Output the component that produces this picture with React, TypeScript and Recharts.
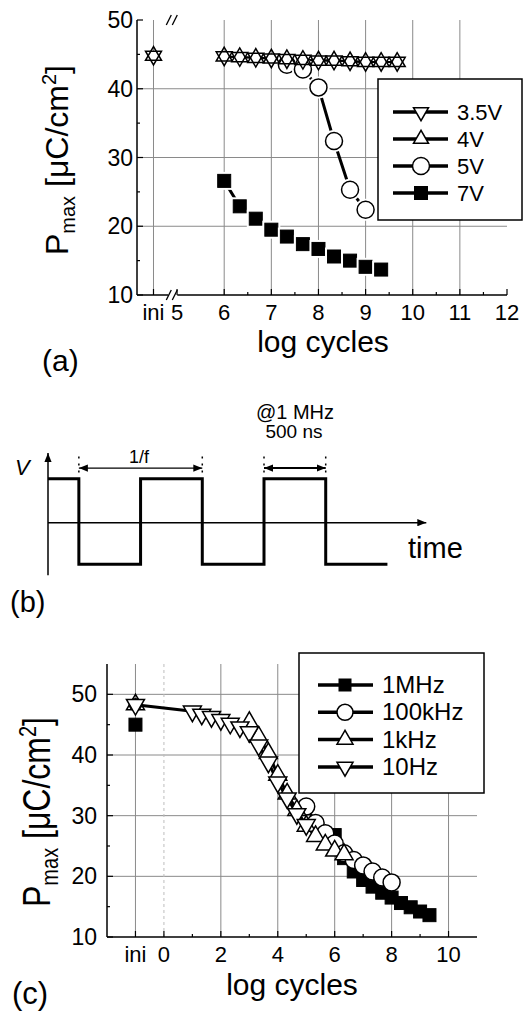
import {
  CartesianGrid,
  ComposedChart,
  Line,
  LineChart,
  ReferenceDot,
  ReferenceLine,
  XAxis,
  YAxis,
} from 'recharts'

const FONT = '"Liberation Sans", Arial, Helvetica, sans-serif'

// ---------- (a) Pmax vs log cycles for several amplitudes ----------
const A_INI = 4.5
const A_X = [6, 6.33, 6.67, 7, 7.33, 7.67, 8, 8.33, 8.67, 9, 9.33, 9.67]
const A_35V = [44.7, 44.6, 44.5, 44.4, 44.3, 44.2, 44.1, 44.1, 44.0, 43.9, 43.9, 43.9]
const A_4V = [44.7, 44.6, 44.5, 44.4, 44.3, 44.2, 44.1, 44.1, 44.0, 43.9, 43.9, 43.9]
const A_5V_X = [7.33, 7.67, 8, 8.33, 8.67, 9]
const A_5V = [43.5, 42.8, 40.2, 32.4, 25.3, 22.4]
const A_7V = [26.6, 22.9, 21.1, 19.5, 18.5, 17.4, 16.7, 15.6, 15.0, 14.1, 13.7]
const A_INI_35V = 44.8
const A_INI_4V = 44.8
const A_LABEL_X = [4.5, 5, 6, 7, 8, 9, 10, 11, 12]
const A_MINOR_X = [6.5, 7.5, 8.5, 9.5, 10.5, 11.5]
const A_GRID_X = [4.5, 6, 7, 8, 9, 10, 11]
const A_LABEL_Y = [10, 20, 30, 40, 50]
const A_MINOR_Y = [15, 25, 35, 45]
const A_GRID_Y = [20, 30, 40]
const A_LEGEND = ['3.5V', '4V', '5V', '7V']

// ---------- (b) driving square wave ----------
const WAVE_T = [0, 0.5, 0.5, 1.5, 1.5, 2.5, 2.5, 3.5, 3.5, 4.5, 4.5, 5.5]
const WAVE_V = [1, 1, -0.94, -0.94, 1, 1, -0.94, -0.94, 1, 1, -0.94, -0.94]
const GUIDE_T = [0.5, 2.5, 3.5, 4.5]

// ---------- (c) Pmax vs log cycles for several frequencies ----------
const C_INI = -1
const C_1MHZ_X = [6, 6.33, 6.67, 7, 7.33, 7.67, 8, 8.33, 8.67, 9, 9.33]
const C_1MHZ = [26.8, 23.0, 20.8, 19.4, 18.3, 17.3, 16.5, 15.6, 14.9, 14.2, 13.6]
const C_100K_X = [5, 5.33, 5.67, 6, 6.33, 6.67, 7, 7.33, 7.67, 8]
const C_100K = [31.5, 28.8, 27.1, 25.4, 23.8, 22.7, 21.8, 20.8, 19.8, 19.0]
const C_1K_X = [3, 3.33, 3.67, 4, 4.33, 4.67, 5, 5.33, 5.67, 6, 6.33]
const C_1K = [45.4, 43.0, 40.3, 36.7, 33.6, 30.9, 28.3, 26.6, 25.2, 24.2, 23.6]
const C_10HZ_X = [1, 1.33, 1.67, 2, 2.33, 2.67, 3, 3.33, 3.67, 4, 4.33, 4.67, 5]
const C_10HZ = [47.2, 46.7, 46.3, 45.8, 45.2, 44.6, 43.8, 41.6, 38.8, 35.5, 32.9, 30.3, 28.5]
const C_INI_1MHZ = 45.0
const C_INI_OTHERS = 48.3
const C_LABEL_X = [-1, 0, 2, 4, 6, 8, 10]
const C_MINOR_X = [1, 3, 5, 7, 9]
const C_GRID_X = [-1, 2, 4, 6, 8, 10]
const C_LABEL_Y = [10, 20, 30, 40, 50]
const C_MINOR_Y = [15, 25, 35, 45]
const C_GRID_Y = [20, 30, 40, 50]
const C_LEGEND = ['1MHz', '100kHz', '1kHz', '10Hz']

type Pt = { x: number; y: number }
const zip = (xs: number[], ys: number[]): Pt[] => ys.map((y, i) => ({ x: xs[i], y }))
const sorted = (...a: number[][]) => a.flat().sort((p, q) => p - q)

type Kind = 'up' | 'down' | 'circle' | 'square'

function Marker({
  cx,
  cy,
  kind,
  size,
  fill = '#fff',
  halo = 0,
}: {
  cx?: number
  cy?: number
  kind: Kind
  size: number
  fill?: string
  halo?: number
}) {
  if (cx == null || cy == null || Number.isNaN(cx) || Number.isNaN(cy)) return null
  const s = size
  const h = s * 0.866
  if (kind === 'circle') {
    return (
      <g>
        {halo ? <circle cx={cx} cy={cy} r={s / 2 + halo} fill="#fff" /> : null}
        <circle cx={cx} cy={cy} r={s / 2} fill={fill} stroke="#000" strokeWidth={1.5} />
      </g>
    )
  }
  if (kind === 'square') {
    return (
      <g>
        {halo ? (
          <rect x={cx - s / 2 - halo} y={cy - s / 2 - halo} width={s + 2 * halo} height={s + 2 * halo} fill="#fff" />
        ) : null}
        <rect x={cx - s / 2} y={cy - s / 2} width={s} height={s} fill={fill} stroke="#000" strokeWidth={1} />
      </g>
    )
  }
  const p =
    kind === 'up'
      ? [
          [cx, cy - (2 * h) / 3],
          [cx - s / 2, cy + h / 3],
          [cx + s / 2, cy + h / 3],
        ]
      : [
          [cx - s / 2, cy - h / 3],
          [cx + s / 2, cy - h / 3],
          [cx, cy + (2 * h) / 3],
        ]
  return <polygon points={p.map((q) => q.join(',')).join(' ')} fill={fill} stroke="#000" strokeWidth={1.5} />
}

const dots = (kind: Kind, size: number, fill?: string, halo?: number) => (p: any) => (
  <Marker key={`${kind}-${p.index}`} cx={p.cx} cy={p.cy} kind={kind} size={size} fill={fill} halo={halo} />
)

// bottom axis: inward tick mark + label (labels only on major values)
const bottomTick = (labels: number[], fmt: (v: number) => string, margin: number, size: number) => (p: any) => {
  const v = p.payload.value
  const major = labels.includes(v)
  return (
    <g>
      <line x1={p.x} x2={p.x} y1={p.y - margin} y2={p.y - margin - (major ? 6 : 3)} stroke="#000" strokeWidth={1.2} />
      {major ? (
        <text x={p.x} y={p.y} dy="0.71em" textAnchor="middle" fontSize={size} fontFamily={FONT} fill="#000">
          {fmt(v)}
        </text>
      ) : null}
    </g>
  )
}

const leftTick = (labels: number[], margin: number, size: number) => (p: any) => {
  const v = p.payload.value
  const major = labels.includes(v)
  return (
    <g>
      <line x1={p.x + margin} x2={p.x + margin + (major ? 6 : 3)} y1={p.y} y2={p.y} stroke="#000" strokeWidth={1.2} />
      {major ? (
        <text x={p.x} y={p.y} dy="0.355em" textAnchor="end" fontSize={size} fontFamily={FONT} fill="#000">
          {v}
        </text>
      ) : null}
    </g>
  )
}

function BreakMark({ cx, cy }: { cx?: number; cy?: number }) {
  if (cx == null || cy == null) return null
  return (
    <g>
      <rect x={cx - 5} y={cy - 3} width={9} height={6} fill="#fff" />
      <line x1={cx - 7} y1={cy + 5} x2={cx - 2} y2={cy - 5} stroke="#000" strokeWidth={1.3} />
      <line x1={cx - 1} y1={cy + 5} x2={cx + 4} y2={cy - 5} stroke="#000" strokeWidth={1.3} />
    </g>
  )
}

const AXIS_LINE = { stroke: '#000', strokeWidth: 1.5 }
const GRID_STROKE = '#8a8a8a'

function PanelA() {
  const s35 = zip(A_X, A_35V)
  const s4 = zip(A_X, A_4V)
  const s5 = zip(A_5V_X, A_5V)
  const s7 = zip(A_X, A_7V)
  return (
    <ComposedChart width={525} height={340} margin={{ top: 20, right: 18, bottom: 0, left: 0 }}>
      <CartesianGrid verticalValues={A_GRID_X} horizontalValues={A_GRID_Y} stroke={GRID_STROKE} strokeWidth={1} />
      <XAxis
        type="number"
        dataKey="x"
        domain={[4.15, 12]}
        ticks={sorted(A_LABEL_X, A_MINOR_X)}
        interval={0}
        height={45}
        tickSize={0}
        tickMargin={9}
        tickLine={false}
        axisLine={AXIS_LINE}
        tick={bottomTick(A_LABEL_X, (v) => (v === A_INI ? 'ini' : String(v)), 9, 22)}
      />
      <XAxis xAxisId="top" orientation="top" type="number" domain={[4.15, 12]} height={0} tick={false} tickLine={false} axisLine={AXIS_LINE} />
      <YAxis
        type="number"
        domain={[10, 50]}
        ticks={sorted(A_LABEL_Y, A_MINOR_Y)}
        interval={0}
        width={137}
        tickSize={0}
        tickMargin={4}
        tickLine={false}
        axisLine={AXIS_LINE}
        tick={leftTick(A_LABEL_Y, 4, 23)}
      />
      <YAxis yAxisId="right" orientation="right" type="number" domain={[10, 50]} width={0} tick={false} tickLine={false} axisLine={AXIS_LINE} />
      <Line data={s35} dataKey="y" stroke="#000" strokeWidth={2} dot={false} activeDot={false} isAnimationActive={false} />
      <Line data={s4} dataKey="y" stroke="#000" strokeWidth={2} dot={false} activeDot={false} isAnimationActive={false} />
      <Line
        data={s7}
        dataKey="y"
        stroke="#000"
        strokeWidth={3}
        dot={dots('square', 13, '#000', 2.5)}
        activeDot={false}
        isAnimationActive={false}
      />
      <Line
        data={s5}
        dataKey="y"
        stroke="#000"
        strokeWidth={3}
        dot={dots('circle', 17, '#fff', 2.5)}
        activeDot={false}
        isAnimationActive={false}
      />
      <Line
        data={[{ x: A_INI, y: A_INI_35V }, ...s35]}
        dataKey="y"
        stroke="none"
        dot={dots('down', 16, '#fff')}
        activeDot={false}
        isAnimationActive={false}
      />
      <Line
        data={[{ x: A_INI, y: A_INI_4V }, ...s4]}
        dataKey="y"
        stroke="none"
        dot={dots('up', 16, 'none')}
        activeDot={false}
        isAnimationActive={false}
      />
      <ReferenceDot x={4.92} y={50} ifOverflow="visible" shape={(p: any) => <BreakMark cx={p.cx} cy={p.cy} />} />
      <ReferenceDot x={4.92} y={10} ifOverflow="visible" shape={(p: any) => <BreakMark cx={p.cx} cy={p.cy} />} />
    </ComposedChart>
  )
}

const refLine =
  (w: number, opts: { start?: boolean; end?: boolean; dash?: string } = {}) =>
  (p: any) => (
    <line
      x1={p.x1}
      y1={p.y1}
      x2={p.x2}
      y2={p.y2}
      stroke="#000"
      strokeWidth={w}
      strokeDasharray={opts.dash}
      markerStart={opts.start ? 'url(#ah)' : undefined}
      markerEnd={opts.end ? 'url(#ah)' : undefined}
    />
  )

function PanelB() {
  const wave = WAVE_T.map((t, i) => ({ t, v: WAVE_V[i] }))
  return (
    <LineChart width={525} height={150} data={wave} margin={{ top: 10, right: 45, bottom: 10, left: 48 }}>
      <XAxis type="number" dataKey="t" domain={[0, 7]} hide />
      <YAxis type="number" domain={[-1.3, 1.65]} hide />
      <ReferenceLine
        segment={[
          { x: 0, y: 0 },
          { x: 6.13, y: 0 },
        ]}
        ifOverflow="visible"
        shape={refLine(1.5, { end: true })}
      />
      <ReferenceLine
        segment={[
          { x: 0, y: -1.19 },
          { x: 0, y: 1.58 },
        ]}
        ifOverflow="visible"
        shape={refLine(1.5, { end: true })}
      />
      {GUIDE_T.map((t) => (
        <ReferenceLine
          key={t}
          segment={[
            { x: t, y: 1.14 },
            { x: t, y: 1.6 },
          ]}
          ifOverflow="visible"
          shape={refLine(1.5, { dash: '2 5' })}
        />
      ))}
      <ReferenceLine
        segment={[
          { x: 0.5, y: 1.24 },
          { x: 2.5, y: 1.24 },
        ]}
        ifOverflow="visible"
        shape={refLine(1.3, { start: true, end: true })}
      />
      <ReferenceLine
        segment={[
          { x: 3.5, y: 1.24 },
          { x: 4.5, y: 1.24 },
        ]}
        ifOverflow="visible"
        shape={refLine(2, { start: true, end: true })}
      />
      <Line type="linear" dataKey="v" stroke="#000" strokeWidth={3} dot={false} activeDot={false} isAnimationActive={false} />
    </LineChart>
  )
}

function PanelC() {
  const m1 = zip(C_1MHZ_X, C_1MHZ)
  const k100 = zip(C_100K_X, C_100K)
  const k1 = zip(C_1K_X, C_1K)
  const h10 = [{ x: C_INI, y: C_INI_OTHERS }, ...zip(C_10HZ_X, C_10HZ)]
  return (
    <ComposedChart width={525} height={340} margin={{ top: 24, right: 48, bottom: 0, left: 0 }}>
      <CartesianGrid verticalValues={C_GRID_X} horizontalValues={C_GRID_Y} stroke={GRID_STROKE} strokeWidth={1} />
      <XAxis
        type="number"
        dataKey="x"
        domain={[-2, 11]}
        ticks={sorted(C_LABEL_X, C_MINOR_X)}
        interval={0}
        height={43}
        tickSize={0}
        tickMargin={9}
        tickLine={false}
        axisLine={AXIS_LINE}
        tick={bottomTick(C_LABEL_X, (v) => (v === C_INI ? 'ini' : String(v)), 9, 22)}
      />
      <XAxis xAxisId="top" orientation="top" type="number" domain={[-2, 11]} height={0} tick={false} tickLine={false} axisLine={AXIS_LINE} />
      <YAxis
        type="number"
        domain={[10, 55]}
        ticks={sorted(C_LABEL_Y, C_MINOR_Y)}
        interval={0}
        width={107}
        tickSize={0}
        tickMargin={10}
        tickLine={false}
        axisLine={AXIS_LINE}
        tick={leftTick(C_LABEL_Y, 10, 23)}
      />
      <YAxis yAxisId="right" orientation="right" type="number" domain={[10, 55]} width={0} tick={false} tickLine={false} axisLine={AXIS_LINE} />
      <ReferenceLine x={0} stroke="#bdbdbd" strokeDasharray="3 3" />
      <Line data={m1} dataKey="y" stroke="#000" strokeWidth={3} dot={dots('square', 13, '#000')} activeDot={false} isAnimationActive={false} />
      <Line
        data={[{ x: C_INI, y: C_INI_1MHZ }]}
        dataKey="y"
        stroke="none"
        dot={dots('square', 13, '#000')}
        activeDot={false}
        isAnimationActive={false}
      />
      <Line data={k100} dataKey="y" stroke="#000" strokeWidth={3} dot={dots('circle', 17)} activeDot={false} isAnimationActive={false} />
      <Line
        data={[{ x: C_INI, y: C_INI_OTHERS }]}
        dataKey="y"
        stroke="none"
        dot={dots('circle', 12)}
        activeDot={false}
        isAnimationActive={false}
      />
      <Line data={k1} dataKey="y" stroke="#000" strokeWidth={3} dot={dots('up', 18)} activeDot={false} isAnimationActive={false} />
      <Line
        data={[{ x: C_INI, y: C_INI_OTHERS }]}
        dataKey="y"
        stroke="none"
        dot={dots('up', 18, 'none')}
        activeDot={false}
        isAnimationActive={false}
      />
      <Line data={h10} dataKey="y" stroke="#000" strokeWidth={3} dot={dots('down', 18)} activeDot={false} isAnimationActive={false} />
    </ComposedChart>
  )
}

const A_KINDS: Kind[] = ['down', 'up', 'circle', 'square']
const A_SIZES = [15, 15, 17, 13]
const C_KINDS: Kind[] = ['square', 'circle', 'up', 'down']
const C_SIZES = [12, 16, 16, 16]

function YTitle({ x, y, stretch = 1 }: { x: number; y: number; stretch?: number }) {
  return (
    <text
      transform={`translate(${x},${y}) rotate(-90) scale(1,${stretch})`}
      textAnchor="middle"
      fontSize={32}
      fontFamily={FONT}
      fill="#000"
    >
      P
      <tspan dy={7} fontSize={20}>
        max
      </tspan>
      <tspan dy={-7}> [μC/cm</tspan>
      <tspan dy={-12} fontSize={20}>
        2
      </tspan>
      <tspan dy={12}>]</tspan>
    </text>
  )
}

function Overlay() {
  const txt = { fontFamily: FONT, fill: '#000' }
  return (
    <svg width={525} height={1011} style={{ position: 'absolute', left: 0, top: 0, pointerEvents: 'none' }}>
      {/* (a) legend */}
      <rect x={378} y={79} width={144} height={141} fill="#fff" stroke="#000" strokeWidth={1.5} />
      {A_LEGEND.map((name, i) => {
        const y = 112 + i * 27
        return (
          <g key={name}>
            <line x1={393} x2={448} y1={y} y2={y} stroke="#000" strokeWidth={3.5} />
            <Marker cx={421} cy={y} kind={A_KINDS[i]} size={A_SIZES[i]} fill={A_KINDS[i] === 'square' ? '#000' : '#fff'} />
            <text x={457} y={y + 8} fontSize={22} {...txt}>
              {name}
            </text>
          </g>
        )
      })}
      <YTitle x={68} y={160} />
      <text x={323} y={352} textAnchor="middle" fontSize={30} {...txt}>
        log cycles
      </text>
      <text x={42} y={371} fontSize={30} {...txt}>
        (a)
      </text>

      {/* (b) annotations */}
      <text x={15} y={475} fontSize={22} fontStyle="italic" {...txt}>
        V
      </text>
      <text x={139} y={463} textAnchor="middle" fontSize={18} {...txt}>
        1/f
      </text>
      <text x={295} y={419} textAnchor="middle" fontSize={20} {...txt}>
        @1 MHz
      </text>
      <text x={294} y={438} textAnchor="middle" fontSize={19} {...txt}>
        500 ns
      </text>
      <text x={408} y={558} fontSize={29} {...txt}>
        time
      </text>
      <text x={10} y={612} fontSize={29} {...txt}>
        (b)
      </text>

      {/* (c) legend */}
      <rect x={299} y={653} width={185} height={140} fill="#fff" stroke="#000" strokeWidth={1.5} />
      {C_LEGEND.map((name, i) => {
        const y = 685 + i * 27.3
        return (
          <g key={name}>
            <line x1={318} x2={373} y1={y} y2={y} stroke="#000" strokeWidth={3.5} />
            <Marker cx={345} cy={y} kind={C_KINDS[i]} size={C_SIZES[i]} fill={C_KINDS[i] === 'square' ? '#000' : '#fff'} />
            <text x={382} y={y + 8} fontSize={24} {...txt}>
              {name}
            </text>
          </g>
        )
      })}
      <YTitle x={50} y={812} stretch={1.2} />
      <text x={292} y={995} textAnchor="middle" fontSize={30} {...txt}>
        log cycles
      </text>
      <text x={12} y={1004} fontSize={31} {...txt}>
        (c)
      </text>
    </svg>
  )
}

export default function App() {
  return (
    <div
      style={{
        position: 'absolute',
        left: 0,
        top: 0,
        width: 525,
        height: 1011,
        background: '#fff',
        overflow: 'hidden',
        fontFamily: FONT,
      }}
    >
      <svg width={0} height={0} style={{ position: 'absolute' }}>
        <defs>
          <marker
            id="ah"
            viewBox="0 0 10 8"
            refX={10}
            refY={4}
            markerWidth={9}
            markerHeight={7.2}
            markerUnits="userSpaceOnUse"
            orient="auto-start-reverse"
          >
            <path d="M0,0 L10,4 L0,8 z" fill="#000" />
          </marker>
        </defs>
      </svg>
      <div style={{ position: 'absolute', left: 0, top: 0 }}>
        <PanelA />
      </div>
      <div style={{ position: 'absolute', left: 0, top: 440 }}>
        <PanelB />
      </div>
      <div style={{ position: 'absolute', left: 0, top: 640 }}>
        <PanelC />
      </div>
      <Overlay />
    </div>
  )
}
